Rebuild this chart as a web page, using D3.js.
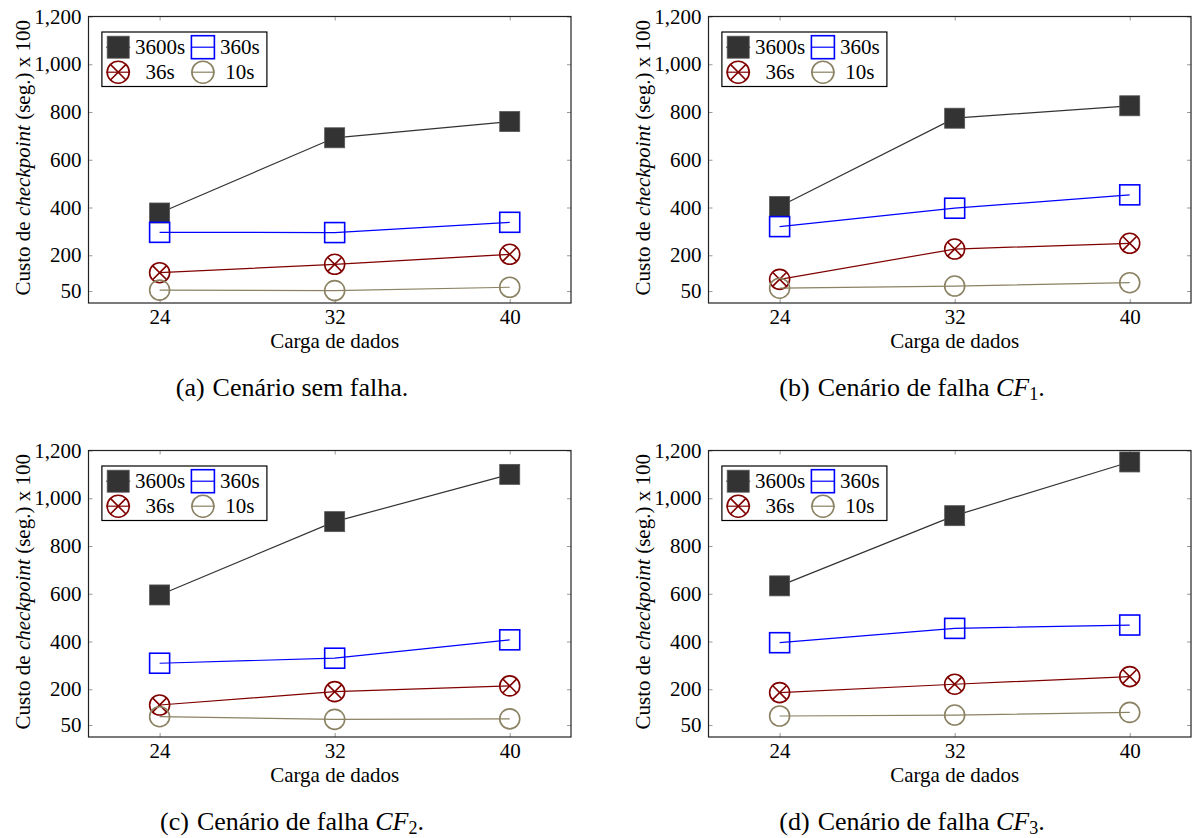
<!DOCTYPE html>
<meta charset="utf-8">
<style>

body {
  margin: 0;
  background: #fff;
}

svg text {
  font-family: "Liberation Serif", "DejaVu Serif", serif;
  fill: #000;
}

.tick text {
  font-size: 21px;
}

.tick line {
  stroke: #999;
}

.axisLabel, .legendLabel {
  font-size: 21px;
}

.caption {
  font-size: 26px;
}

.frame {
  fill: none;
  stroke: #222;
  stroke-width: 1.2px;
}

</style>
<body>
<script src="https://d3js.org/d3.v7.min.js"></script>
<script>

const loads = [24, 32, 40];
const intervals = ["3600s", "360s", "36s", "10s"];
const yTicks = [50, 200, 400, 600, 800, 1000, 1200];

// one row per interval (3600s, 360s, 36s, 10s), one column per load
const semFalha = [[377, 692, 760], [296, 295, 338], [127, 162, 204], [54, 52, 66]];
const falhaCF1 = [[404, 774, 826], [320, 397, 453], [99, 226, 250], [62, 71, 85]];
const falhaCF2 = [[595, 902, 1100], [309, 330, 407], [134, 190, 214], [85, 74, 76]];
const falhaCF3 = [[633, 927, 1152], [395, 455, 469], [186, 221, 253], [88, 92, 103]];

const captionTags = ["(a)", "(b)", "(c)", "(d)"];
const captionTexts = ["Cenário sem falha.", "Cenário de falha ", "Cenário de falha ", "Cenário de falha "];
const captionSubs = [null, "1", "2", "3"];

const panels = [semFalha, falhaCF1, falhaCF2, falhaCF3];

let width = 1200,
    height = 838,
    xLeft = 88.5,
    xRight = 571,
    yTop = 16.5,
    yBottom = 303;

const color = d3.scaleOrdinal()
                .domain(intervals)
                .range(["#333333", "#0000ff", "#800000", "#8a8262"]);

let svg = d3.select("body").append("svg")
            .attr("width", width)
            .attr("height", height);

let x = d3.scaleLinear().domain([20.75, 42.8]).range([xLeft, xRight]),
    y = d3.scaleLinear().domain([0, 1200]).range([yBottom, yTop]);

panels.forEach((data, p) => {
    let g = svg.append("g")
        .attr("transform", `translate(${(p % 2) * 620},${Math.floor(p / 2) * 434})`);
    drawPanel(g, data, p);
});

function drawPanel(g, data, p) {
    // inward ticks on all four sides
    g.append("g")
        .attr("transform", `translate(${xLeft},0)`)
        .call(d3.axisLeft(y).tickValues(yTicks).tickSize(-4).tickPadding(7).tickFormat(d3.format(",")))
        .call(a => a.select(".domain").remove());
    g.append("g")
        .attr("transform", `translate(${xRight},0)`)
        .call(d3.axisRight(y).tickValues(yTicks).tickSize(-4).tickFormat(""))
        .call(a => a.select(".domain").remove());
    g.append("g")
        .attr("transform", `translate(0,${yBottom})`)
        .call(d3.axisBottom(x).tickValues(loads).tickSize(-4).tickPadding(6))
        .call(a => a.select(".domain").remove());
    g.append("g")
        .attr("transform", `translate(0,${yTop})`)
        .call(d3.axisTop(x).tickValues(loads).tickSize(-4).tickFormat(""))
        .call(a => a.select(".domain").remove());

    g.selectAll("g").attr("font-family", null).attr("font-size", null);

    g.append("rect")
        .attr("class", "frame")
        .attr("x", xLeft)
        .attr("y", yTop)
        .attr("width", xRight - xLeft)
        .attr("height", yBottom - yTop);

    const line = d3.line()
        .x((d, i) => x(loads[i]))
        .y(d => y(d));

    data.forEach((values, s) => {
        let name = intervals[s];
        g.append("path")
            .attr("d", line(values))
            .attr("fill", "none")
            .attr("stroke", color(name))
            .attr("stroke-width", 1.2);
        values.forEach((v, i) => marker(g, name, x(loads[i]), y(v), 10));
    });

    // axis titles
    g.append("text")
        .attr("class", "axisLabel")
        .attr("x", x(32))
        .attr("y", yBottom + 45)
        .attr("text-anchor", "middle")
        .text("Carga de dados");

    let yl = g.append("text")
        .attr("class", "axisLabel")
        .attr("text-anchor", "middle")
        .attr("transform", `translate(30,${(yTop + yBottom) / 2 - 2}) rotate(-90)`);
    yl.append("tspan").text("Custo de ");
    yl.append("tspan").attr("font-style", "italic").text("checkpoint");
    yl.append("tspan").text(" (seg.) x 100");

    showLegend(g);

    // caption
    let c = g.append("text")
        .attr("class", "caption")
        .attr("x", 292)
        .attr("y", 396)
        .attr("text-anchor", "middle");
    c.append("tspan").text(captionTags[p]);
    c.append("tspan").attr("dx", 8).text(captionTexts[p]);
    if (captionSubs[p]) {
        c.append("tspan").attr("font-style", "italic").text("CF");
        c.append("tspan").attr("font-size", 18).attr("dy", 4).text(captionSubs[p]);
        c.append("tspan").attr("dy", -4).text(".");
    }
}

function marker(g, name, cx, cy, r) {
    let col = color(name);
    if (name == "3600s") {
        g.append("rect")
            .attr("x", cx - r).attr("y", cy - r)
            .attr("width", 2 * r).attr("height", 2 * r)
            .attr("fill", col)
            .attr("stroke", "#555")
            .attr("stroke-width", 0.8);
    } else if (name == "360s") {
        g.append("rect")
            .attr("x", cx - r).attr("y", cy - r)
            .attr("width", 2 * r).attr("height", 2 * r)
            .attr("fill", "none")
            .attr("stroke", col)
            .attr("stroke-width", 1.6);
    } else {
        g.append("circle")
            .attr("cx", cx).attr("cy", cy).attr("r", r)
            .attr("fill", "none")
            .attr("stroke", col)
            .attr("stroke-width", 1.6);
        if (name == "36s") {
            let k = r * Math.SQRT1_2;
            g.append("path")
                .attr("d", `M${cx - k},${cy - k}L${cx + k},${cy + k}M${cx - k},${cy + k}L${cx + k},${cy - k}`)
                .attr("stroke", col)
                .attr("stroke-width", 1.6);
        }
    }
}

function showLegend(g) {
    let lx = xLeft + 13.4,
        ly = yTop + 15.5;

    g.append("rect")
        .attr("x", lx)
        .attr("y", ly)
        .attr("width", 165)
        .attr("height", 54.5)
        .attr("fill", "#fff")
        .attr("stroke", "#000")
        .attr("stroke-width", 1.2);

    intervals.forEach((name, i) => {
        let col = i % 2,
            row = Math.floor(i / 2),
            mx = lx + 16.3 + col * 84.7,
            my = ly + 15.2 + row * 25;
        g.append("line")
            .attr("x1", mx - 12).attr("x2", mx + 12)
            .attr("y1", my).attr("y2", my)
            .attr("stroke", color(name))
            .attr("stroke-width", 1.2);
        marker(g, name, mx, my, name == "360s" ? 11.5 : 11);
        g.append("text")
            .attr("class", "legendLabel")
            .attr("x", mx + 42 + col * -5)
            .attr("y", my)
            .attr("dy", "0.33em")
            .attr("text-anchor", "middle")
            .text(name);
    });
}

</script>
